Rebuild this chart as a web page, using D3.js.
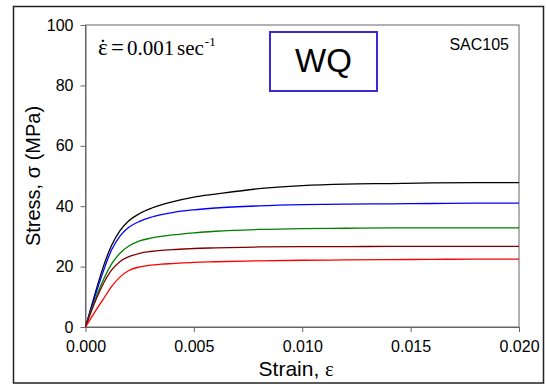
<!DOCTYPE html>
<html>
<head>
<meta charset="utf-8">
<script src="https://cdnjs.cloudflare.com/ajax/libs/d3/7.8.5/d3.min.js"></script>
<style>
  body { margin: 0; background: #fff; }
</style>
</head>
<body>
<div id="chart"></div>
<script>
// strain values shared by every curve
const strain = [0, 0.0004, 0.0008, 0.0012, 0.0016, 0.002, 0.0025, 0.003, 0.0035, 0.004,
  0.005, 0.006, 0.008, 0.010, 0.012, 0.014, 0.016, 0.018, 0.020];

// stress (MPa)
const stressBlack = [0, 10, 19.5, 27, 32.0, 35.2, 37.6, 39.2, 40.4, 41.4, 43.0, 44.0, 45.8, 46.8, 47.3, 47.5, 47.7, 47.8, 47.8];
const stressBlue = [0, 9.3, 18, 25.5, 30.2, 33.0, 35.0, 36.3, 37.2, 37.9, 38.8, 39.4, 40.1, 40.5, 40.7, 40.8, 40.9, 41.0, 41.0];
const stressGreen = [0, 8.2, 15.2, 20.8, 24.5, 26.8, 28.5, 29.4, 30.0, 30.5, 31.2, 31.7, 32.3, 32.6, 32.7, 32.8, 32.8, 32.8, 32.8];
const stressDarkRed = [0, 7.6, 14, 18.8, 21.7, 23.3, 24.4, 25.0, 25.4, 25.6, 26.0, 26.2, 26.5, 26.6, 26.6, 26.7, 26.7, 26.7, 26.7];
const stressRed = [0, 4.6, 9, 13.4, 16.6, 18.7, 19.9, 20.5, 20.8, 21.0, 21.4, 21.6, 21.9, 22.1, 22.2, 22.3, 22.4, 22.5, 22.5];

const xTicks = [0, 0.005, 0.010, 0.015, 0.020];
const yTicks = [0, 20, 40, 60, 80, 100];

const series = [
  { values: stressBlack, color: "#000000" },
  { values: stressBlue, color: "#0000ff" },
  { values: stressGreen, color: "#008000" },
  { values: stressDarkRed, color: "#800000" },
  { values: stressRed, color: "#ff0000" }
];

const sans = "Liberation Sans, Arial, sans-serif";
const serif = "Liberation Serif, Times New Roman, serif";

const width = 546, height = 386;
const margin = { top: 25, right: 27, bottom: 59, left: 85.5 };
const w = width - margin.left - margin.right;
const h = height - margin.top - margin.bottom;

const svg = d3.select("#chart").append("svg")
  .attr("width", width)
  .attr("height", height)
  .style("font-family", sans);

// outer frame
svg.append("rect")
  .attr("x", 13.5).attr("y", 6.5)
  .attr("width", 530).attr("height", 376.5)
  .attr("fill", "none")
  .attr("stroke", "#222")
  .attr("stroke-width", 1.5);

const g = svg.append("g")
  .attr("transform", `translate(${margin.left},${margin.top})`);

const x = d3.scaleLinear().domain([0, 0.02]).range([0, w]);
const y = d3.scaleLinear().domain([0, 100]).range([h, 0]);

// plot box
g.append("rect")
  .attr("width", w).attr("height", h)
  .attr("fill", "none")
  .attr("stroke", "#666")
  .attr("stroke-width", 1);

const xAxis = g.append("g")
  .attr("transform", `translate(0,${h})`)
  .call(d3.axisBottom(x).tickValues(xTicks).tickFormat(d3.format(".3f")).tickSizeOuter(0).tickSizeInner(5).tickPadding(9));

const yAxis = g.append("g")
  .call(d3.axisLeft(y).tickValues(yTicks).tickSizeOuter(0).tickSizeInner(5).tickPadding(7));

[xAxis, yAxis].forEach(a => {
  a.select(".domain").attr("stroke", "#666");
  a.selectAll(".tick line").attr("stroke", "#666");
  a.selectAll(".tick text")
    .style("font-family", sans)
    .attr("font-size", 16)
    .attr("fill", "#000");
});

// curves
const line = d3.line()
  .x((d, i) => x(strain[i]))
  .y(d => y(d))
  .curve(d3.curveMonotoneX);

g.selectAll(".curve")
  .data(series)
  .enter()
  .append("path")
  .attr("class", "curve")
  .attr("d", d => line(d.values))
  .attr("fill", "none")
  .attr("stroke", d => d.color)
  .attr("stroke-width", 1.3);

// axis titles
const xt = svg.append("text")
  .attr("x", margin.left + w / 2 - 6)
  .attr("y", 376)
  .attr("text-anchor", "middle")
  .attr("font-size", 21);
xt.append("tspan").text("Strain, ");
xt.append("tspan").style("font-family", serif).text("ε");

svg.append("text")
  .attr("transform", `translate(40,${margin.top + h / 2}) rotate(-90)`)
  .attr("text-anchor", "middle")
  .attr("font-size", 20)
  .text("Stress, σ (MPa)");

// strain rate note
const rate = svg.append("text")
  .attr("y", 55)
  .style("font-family", serif)
  .attr("font-size", 21);
rate.append("tspan").attr("x", 98).attr("font-size", 23).text("ε");
rate.append("tspan").attr("x", 99).attr("font-size", 23).text("˙");
rate.append("tspan").attr("x", 111).attr("font-size", 23).text("=");
rate.append("tspan").attr("x", 127).text("0.001");
rate.append("tspan").attr("x", 177).text("sec");
rate.append("tspan").attr("font-size", 13).attr("dy", -9).attr("dx", 1).text("-1");

// WQ box
svg.append("rect")
  .attr("x", 270).attr("y", 32)
  .attr("width", 107).attr("height", 59)
  .attr("fill", "none")
  .attr("stroke", "#3a2ad6")
  .attr("stroke-width", 2);

svg.append("text")
  .attr("x", 323.5).attr("y", 72)
  .attr("text-anchor", "middle")
  .attr("font-size", 33)
  .text("WQ");

svg.append("text")
  .attr("x", 509).attr("y", 50)
  .attr("text-anchor", "end")
  .attr("font-size", 16)
  .text("SAC105");
</script>
</body>
</html>
